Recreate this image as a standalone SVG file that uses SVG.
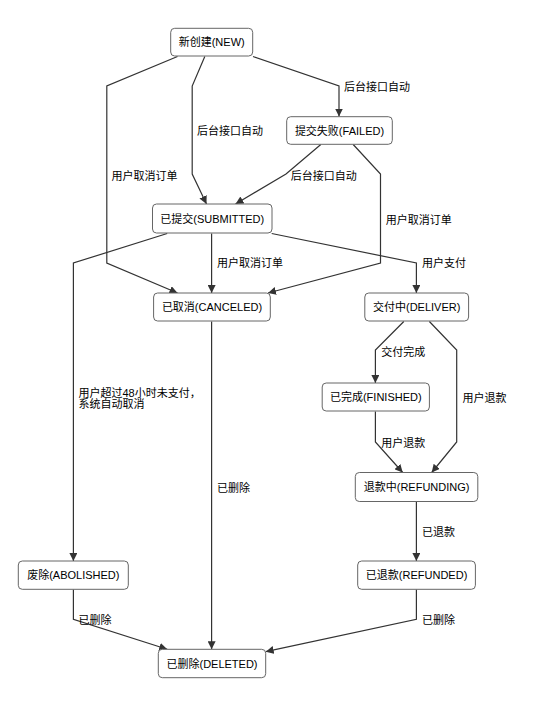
<svg xmlns="http://www.w3.org/2000/svg" width="535" height="707" viewBox="0 0 535 707">
<defs>
<style>
.node rect{fill:#fff;stroke:#666;stroke-width:1}
.node text{font-family:"Liberation Sans","Noto Sans CJK SC",sans-serif;font-size:11px;fill:#000;text-anchor:middle;dominant-baseline:central}
#edges path{fill:none;stroke:#333;stroke-width:1.2;marker-end:url(#arr)}
#labels text{font-family:"Liberation Sans","Noto Sans CJK SC",sans-serif;font-size:11px;fill:#000;dominant-baseline:central}
</style>
<marker id="arr" markerUnits="userSpaceOnUse" markerWidth="9" markerHeight="8" refX="8" refY="4" orient="auto">
<path d="M0,0 L8,4 L0,8 z" fill="#333"/>
</marker>
</defs>
<rect width="535" height="707" fill="#fff"/>
<g id="edges">
<path d="M177.5,56.5 L106.8,86 L106.8,263 L177.5,293"/>
<path d="M204.8,56.5 L192.2,86 L192.2,174 L206.5,204"/>
<path d="M253,56.5 L339,86 L339,116.5"/>
<path d="M320.8,144.5 L286,174 L235.5,204"/>
<path d="M353.2,144.5 L380.5,174 L380.5,263 L268,293"/>
<path d="M167.2,233.5 L73.4,263 L73.4,561"/>
<path d="M211.6,233.5 L211.6,293"/>
<path d="M271.7,233.5 L416.4,263 L416.4,293"/>
<path d="M403.8,321.5 L375.4,350 L375.4,383"/>
<path d="M429.4,321.5 L456.7,350 L456.7,442 L431.7,472.5"/>
<path d="M375.4,411.5 L375.4,442 L402.7,472.5"/>
<path d="M416.4,501.5 L416.4,561"/>
<path d="M211.6,321.5 L211.6,649.3"/>
<path d="M73.4,589.5 L73.4,619.3 L167.2,649.3"/>
<path d="M416.4,589.5 L416.4,619.3 L265.7,651.7"/>
</g>
<g id="labels">
<text x="111.6" y="176">用户取消订单</text>
<text x="197" y="131">后台接口自动</text>
<text x="344" y="87">后台接口自动</text>
<text x="290.8" y="176">后台接口自动</text>
<text x="385.7" y="220">用户取消订单</text>
<text x="78.5" y="392.7">用户超过48小时未支付，</text>
<text x="78.5" y="403.5">系统自动取消</text>
<text x="217" y="263">用户取消订单</text>
<text x="422" y="263">用户支付</text>
<text x="381.2" y="352">交付完成</text>
<text x="462.5" y="397.7">用户退款</text>
<text x="381.2" y="443">用户退款</text>
<text x="422" y="531.7">已退款</text>
<text x="217" y="488">已删除</text>
<text x="78.5" y="620">已删除</text>
<text x="422" y="620">已删除</text>
</g>
<g id="node-new" class="node"><rect x="170.7" y="28.3" width="82" height="27.7" rx="4"/><text x="211.7" y="42.2">新创建(NEW)</text></g>
<g id="node-failed" class="node"><rect x="286.7" y="116.7" width="105.6" height="27.6" rx="4"/><text x="339.5" y="130.5">提交失败(FAILED)</text></g>
<g id="node-submitted" class="node"><rect x="152.5" y="204" width="119.5" height="29" rx="4"/><text x="212.2" y="218.5">已提交(SUBMITTED)</text></g>
<g id="node-canceled" class="node"><rect x="153.6" y="293" width="116.7" height="28" rx="4"/><text x="212" y="307">已取消(CANCELED)</text></g>
<g id="node-deliver" class="node"><rect x="364.8" y="293" width="103.8" height="28" rx="4"/><text x="416.7" y="307">交付中(DELIVER)</text></g>
<g id="node-finished" class="node"><rect x="322.2" y="383" width="107.2" height="28" rx="4"/><text x="375.8" y="397">已完成(FINISHED)</text></g>
<g id="node-refunding" class="node"><rect x="355.3" y="472.5" width="122.5" height="29" rx="4"/><text x="416.6" y="487">退款中(REFUNDING)</text></g>
<g id="node-abolished" class="node"><rect x="18.3" y="561" width="110" height="28.3" rx="4"/><text x="73.3" y="575.2">废除(ABOLISHED)</text></g>
<g id="node-refunded" class="node"><rect x="357.7" y="561" width="117.7" height="28.3" rx="4"/><text x="416.6" y="575.2">已退款(REFUNDED)</text></g>
<g id="node-deleted" class="node"><rect x="158.3" y="649.3" width="107.4" height="28.4" rx="4"/><text x="212" y="663.5">已删除(DELETED)</text></g>
</svg>
